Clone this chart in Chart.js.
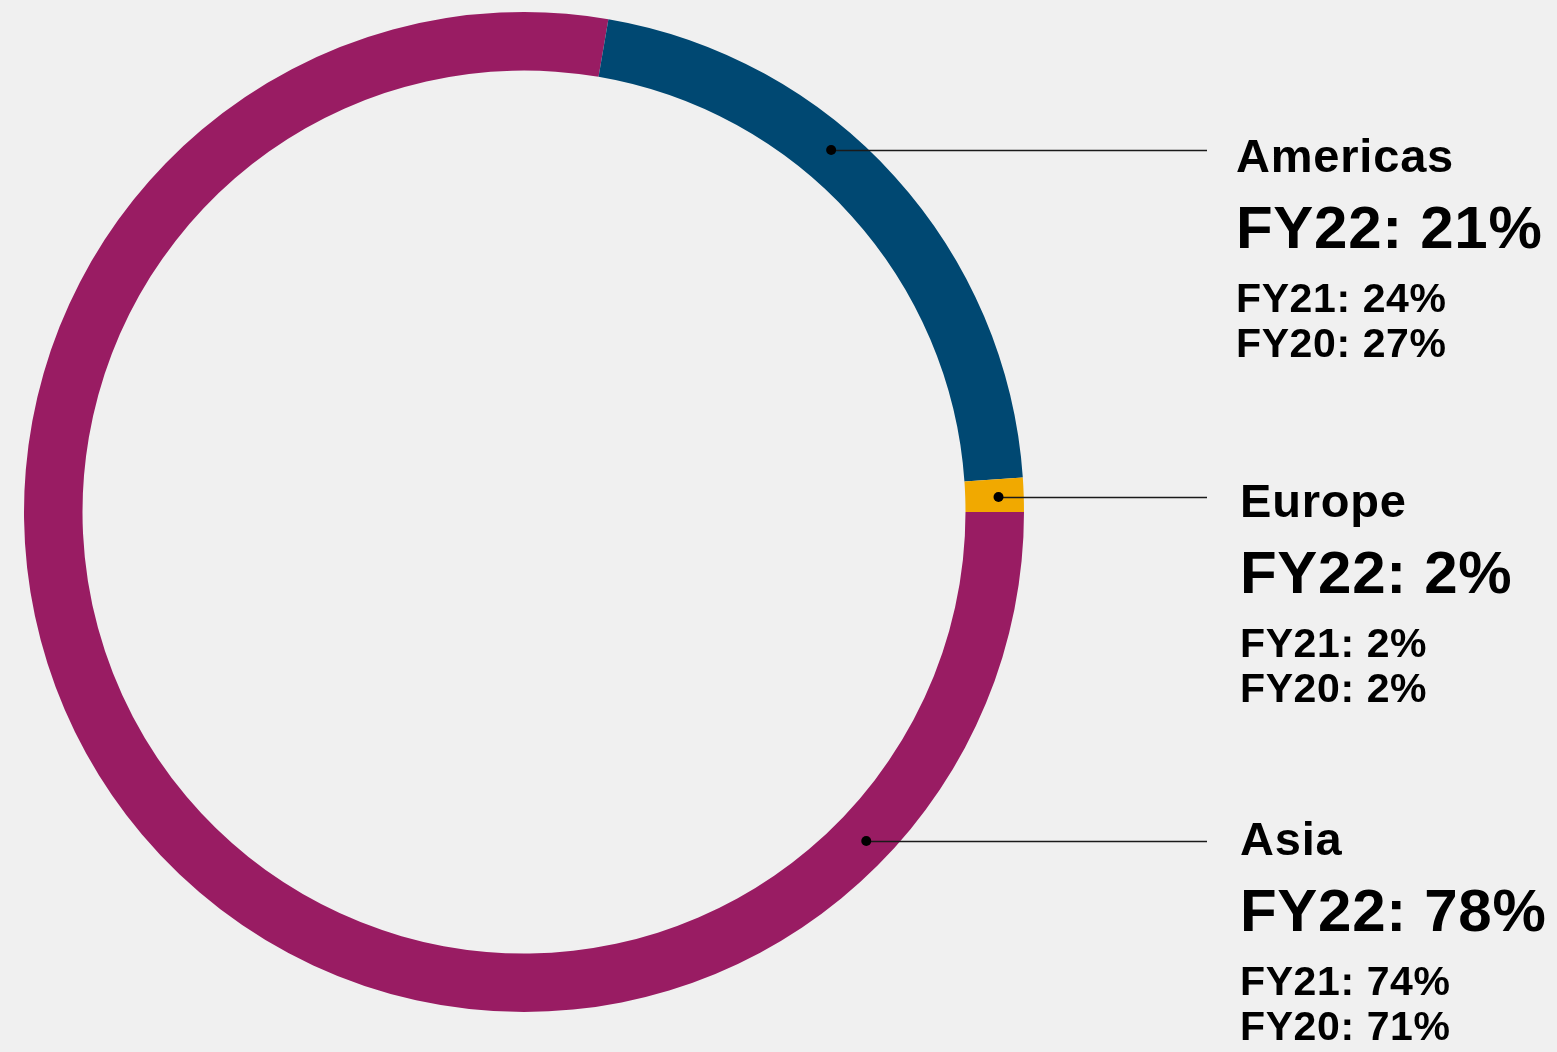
<!DOCTYPE html>
<html>
<head>
<meta charset="utf-8">
<script src="https://cdn.jsdelivr.net/npm/chart.js@4/dist/chart.umd.min.js"></script>
<style>
  html, body { margin: 0; padding: 0; background: #f0f0f0; }
  #wrap { width: 1557px; height: 1052px; position: relative; }
</style>
</head>
<body>
<div id="wrap"><canvas id="c" width="1557" height="1052"></canvas></div>
<script>
// Data (ring order clockwise from 3 o'clock: Asia, Americas, Europe)
const regions = ['Asia', 'Americas', 'Europe'];
const shareValues = [77.7, 21.2, 1.1];       // arc sizes read from the ring
const fy22Labels = [78, 21, 2];
const fy21Labels = [74, 24, 2];
const fy20Labels = [71, 27, 2];
const colors = ['#991c63', '#004872', '#f1a900'];

// Layout of annotation blocks (per region, same order)
const blockX = [1240, 1236, 1240];
const blockY = [855, 172, 517];          // baseline of region name
const leaderY = [841, 150, 497];
const leaderEndX = 1207;

function setSpacing(ctx, v) { if ('letterSpacing' in ctx) ctx.letterSpacing = v + 'px'; }

const annotations = {
  id: 'annotations',
  afterDraw(chart) {
    const ctx = chart.ctx;
    const meta = chart.getDatasetMeta(0);
    ctx.save();
    meta.data.forEach((arc, i) => {
      const p = arc.getProps(['x', 'y', 'innerRadius', 'outerRadius'], true);
      const rMid = (p.innerRadius + p.outerRadius) / 2 + 4;
      const dy = leaderY[i] - p.y;
      const dx = Math.sqrt(Math.max(rMid * rMid - dy * dy, 0));
      const dotX = p.x + dx;
      // leader line
      ctx.strokeStyle = '#1a1a1a';
      ctx.lineWidth = 1.4;
      ctx.beginPath();
      ctx.moveTo(dotX, leaderY[i] + 0.5);
      ctx.lineTo(leaderEndX, leaderY[i] + 0.5);
      ctx.stroke();
      // dot
      ctx.fillStyle = '#000';
      ctx.beginPath();
      ctx.arc(dotX, leaderY[i], 5, 0, Math.PI * 2);
      ctx.fill();
      // text
      const x = blockX[i], y = blockY[i];
      ctx.fillStyle = '#000';
      ctx.textBaseline = 'alphabetic';
      ctx.textAlign = 'left';
      ctx.font = 'bold 47px "Liberation Sans", Arial, sans-serif';
      setSpacing(ctx, 0.8);
      ctx.fillText(regions[i], x, y);
      ctx.font = 'bold 60px "Liberation Sans", Arial, sans-serif';
      setSpacing(ctx, 0.7);
      ctx.fillText('FY22: ' + fy22Labels[i] + '%', x, y + 76);
      ctx.font = 'bold 41px "Liberation Sans", Arial, sans-serif';
      setSpacing(ctx, 0.6);
      ctx.fillText('FY21: ' + fy21Labels[i] + '%', x, y + 140);
      ctx.fillText('FY20: ' + fy20Labels[i] + '%', x, y + 185);
      setSpacing(ctx, 0);
    });
    ctx.restore();
  }
};

new Chart(document.getElementById('c'), {
  type: 'doughnut',
  data: {
    labels: regions,
    datasets: [{
      data: shareValues,
      backgroundColor: colors,
      borderWidth: 0,
      hoverOffset: 0
    }]
  },
  options: {
    responsive: false,
    animation: false,
    rotation: 90,
    cutout: '88.3%',
    layout: { padding: { left: 24, top: 12, right: 533, bottom: 40 } },
    plugins: { legend: { display: false }, tooltip: { enabled: false } },
    events: []
  },
  plugins: [annotations]
});
</script>
</body>
</html>
